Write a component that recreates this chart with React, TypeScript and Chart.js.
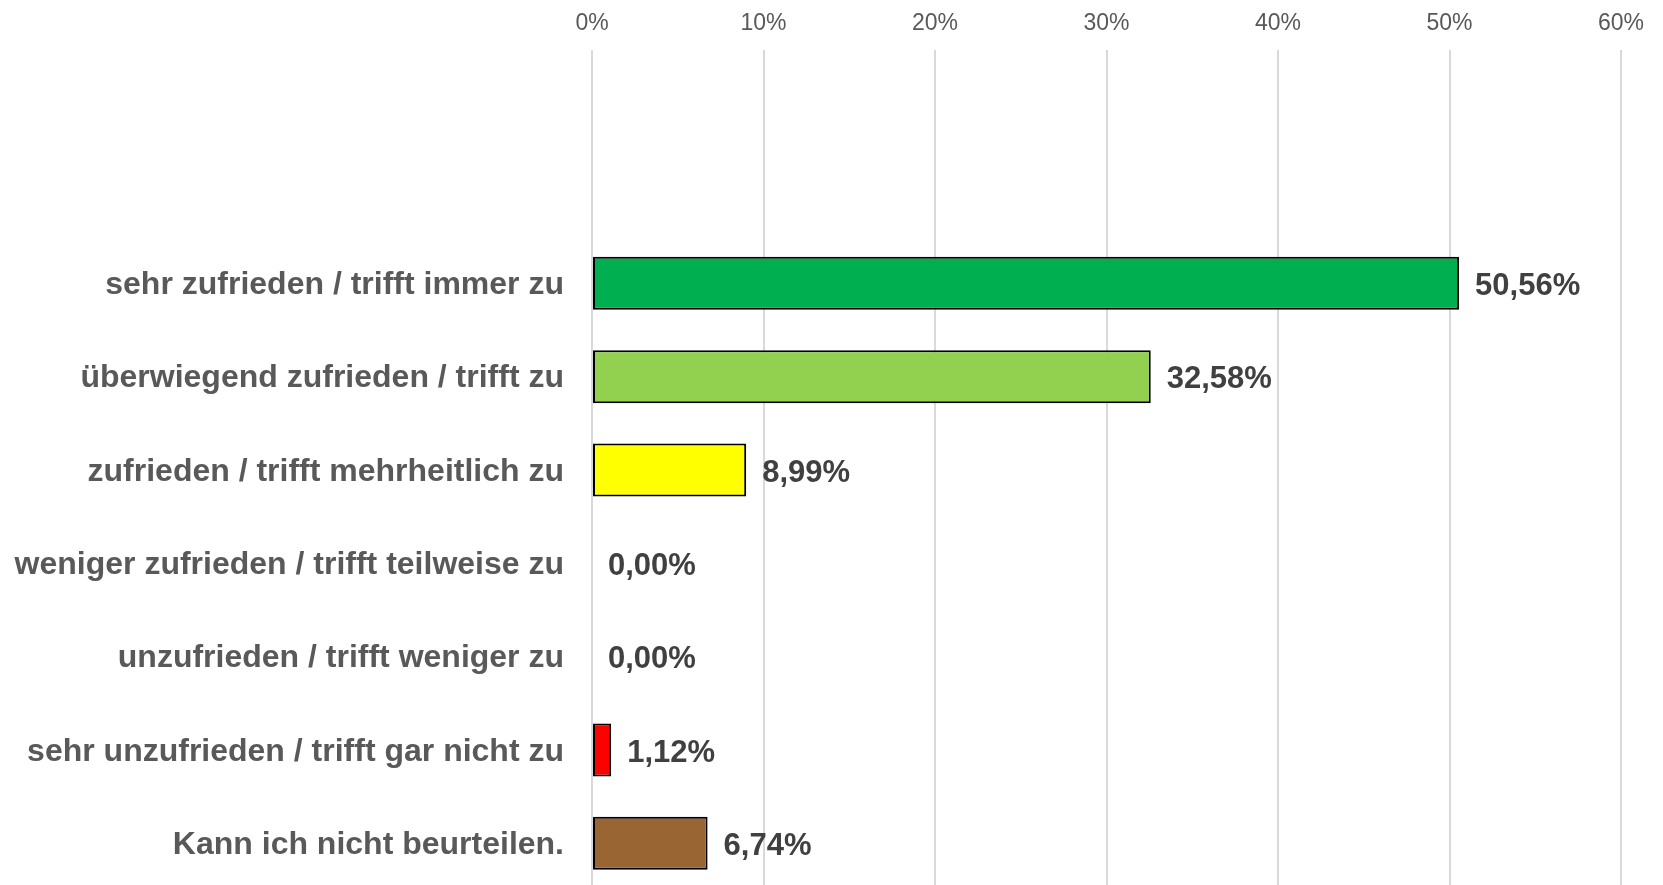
import React, { useEffect, useRef } from "react";
import { Chart, registerables } from "chart.js";

Chart.register(...registerables);

const categories = [
  "",
  "",
  "sehr zufrieden / trifft immer zu",
  "überwiegend zufrieden / trifft zu",
  "zufrieden / trifft mehrheitlich zu",
  "weniger zufrieden / trifft teilweise zu",
  "unzufrieden / trifft weniger zu",
  "sehr unzufrieden / trifft gar nicht zu",
  "Kann ich nicht beurteilen.",
];
const values: (number | null)[] = [null, null, 50.56, 32.58, 8.99, 0.0, 0.0, 1.12, 6.74];
const barColors = [
  "#ffffff",
  "#ffffff",
  "#00B050",
  "#92D050",
  "#FFFF00",
  "#C00000",
  "#FF6600",
  "#FF0000",
  "#996633",
];
const xTicks = [0, 10, 20, 30, 40, 50, 60];

const FONT = "'Liberation Sans', Arial, sans-serif";

const dataLabelPlugin = {
  id: "dataLabels",
  afterDatasetsDraw(chart: any) {
    const ctx = chart.ctx;
    const meta = chart.getDatasetMeta(0);
    ctx.save();
    ctx.font = `bold 31px ${FONT}`;
    ctx.fillStyle = "#404040";
    ctx.textAlign = "left";
    ctx.textBaseline = "middle";
    meta.data.forEach((bar: any, i: number) => {
      const v = values[i];
      if (v === null || v === undefined) return;
      const txt = v.toFixed(2).replace(".", ",") + "%";
      ctx.fillText(txt, bar.x + 16, bar.y + 3);
    });
    ctx.restore();
  },
};

export default function App() {
  const ref = useRef<HTMLCanvasElement | null>(null);
  useEffect(() => {
    document.body.style.margin = "0";
    if (!ref.current) return;
    const chart = new Chart(ref.current, {
      type: "bar",
      data: {
        labels: categories,
        datasets: [
          {
            data: values as any,
            backgroundColor: barColors,
            borderColor: values.map((v) => (v ? "#000000" : "rgba(0,0,0,0)")),
            borderWidth: 2,
            borderSkipped: false,
            categoryPercentage: 1,
            barPercentage: 0.568,
          },
        ],
      },
      options: {
        indexAxis: "y",
        animation: false,
        responsive: false,
        maintainAspectRatio: false,
        layout: { padding: { left: 0, right: 42, top: 0, bottom: 0 } },
        plugins: {
          legend: { display: false },
          tooltip: { enabled: false },
        },
        scales: {
          x: {
            position: "top",
            min: 0,
            max: 60,
            afterBuildTicks(scale: any) {
              scale.ticks = xTicks.map((v) => ({ value: v }));
            },
            afterFit(scale: any) {
              scale.height = 50;
              scale.paddingLeft = 0;
              scale.paddingRight = 0;
            },
            grid: {
              color: "#d9d9d9",
              lineWidth: 2,
              drawTicks: false,
            },
            border: { display: false },
            ticks: {
              padding: 13,
              color: "#595959",
              font: { family: FONT, size: 23 },
              callback: (v: any) => v + "%",
            },
          },
          y: {
            afterFit(scale: any) {
              scale.width = 592;
              scale.paddingTop = 0;
              scale.paddingBottom = 0;
            },
            grid: { display: false, drawTicks: false },
            border: { display: false },
            ticks: {
              padding: 28,
              labelOffset: 2,
              color: "#595959",
              font: { family: FONT, size: 32, weight: "bold" },
              autoSkip: false,
            },
          },
        },
      },
      plugins: [dataLabelPlugin],
    } as any);
    return () => chart.destroy();
  }, []);
  return (
    <div style={{ width: 1663, height: 885, overflow: "hidden", position: "relative" }}>
      <canvas ref={ref} width={1663} height={890} style={{ display: "block" }} />
    </div>
  );
}
